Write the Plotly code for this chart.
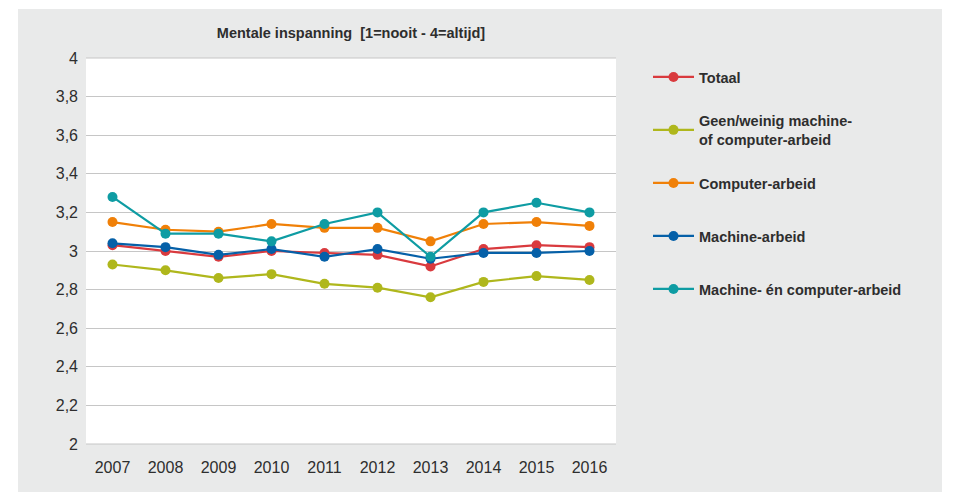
import plotly.graph_objects as go

# Survey years and mean scores for "mentale inspanning" (1 = nooit, 4 = altijd)
years = ["2007", "2008", "2009", "2010", "2011", "2012", "2013", "2014", "2015", "2016"]

totaal = [3.03, 3.00, 2.97, 3.00, 2.99, 2.98, 2.92, 3.01, 3.03, 3.02]
geen_weinig = [2.93, 2.90, 2.86, 2.88, 2.83, 2.81, 2.76, 2.84, 2.87, 2.85]
computer = [3.15, 3.11, 3.10, 3.14, 3.12, 3.12, 3.05, 3.14, 3.15, 3.13]
machine = [3.04, 3.02, 2.98, 3.01, 2.97, 3.01, 2.96, 2.99, 2.99, 3.00]
machine_computer = [3.28, 3.09, 3.09, 3.05, 3.14, 3.20, 2.97, 3.20, 3.25, 3.20]

series_names = [
    "Totaal",
    "Geen/weinig machine-<br>of computer-arbeid",
    "Computer-arbeid",
    "Machine-arbeid",
    "Machine- én computer-arbeid",
]
series_values = [totaal, geen_weinig, computer, machine, machine_computer]
series_colors = ["#d93a3e", "#afb71c", "#f08008", "#0560a8", "#0e9ca3"]

y_tickvals = [2, 2.2, 2.4, 2.6, 2.8, 3, 3.2, 3.4, 3.6, 3.8, 4]
y_ticktext = ["2", "2,2", "2,4", "2,6", "2,8", "3", "3,2", "3,4", "3,6", "3,8", "4"]

FONT = "Liberation Sans, Arial, sans-serif"
TEXT = "#2e2e2e"
PANEL = "#e9eaea"

W, H = 958, 493
L, R, T, B = 86, 342, 58, 49
plot_w = W - L - R
plot_h = H - T - B


def px_x(px):
    return (px - L) / plot_w


def px_y(py):
    return (H - B - py) / plot_h


fig = go.Figure()

legend_ids = ["legend", "legend2", "legend3", "legend4", "legend5"]
legend_centers = [77, 130, 183, 236, 289]

for name, vals, color, lid in zip(series_names, series_values, series_colors, legend_ids):
    fig.add_trace(
        go.Scatter(
            x=years,
            y=vals,
            name=name,
            mode="lines+markers",
            line=dict(color=color, width=2.2),
            marker=dict(color=color, size=10),
            legend=lid,
        )
    )

layout_legends = {}
for lid, cy in zip(legend_ids, legend_centers):
    layout_legends[lid] = dict(
        x=px_x(648),
        y=px_y(cy),
        xanchor="left",
        yanchor="middle",
        bgcolor="rgba(0,0,0,0)",
        font=dict(family=FONT, size=14.5, color=TEXT, weight="bold"),
        itemwidth=41,
        valign="middle",
    )

fig.update_layout(
    width=W,
    height=H,
    margin=dict(l=L, r=R, t=T, b=B, pad=0),
    paper_bgcolor="white",
    plot_bgcolor="white",
    font=dict(family=FONT, color=TEXT),
    showlegend=True,
    title=dict(
        text="Mentale inspanning  [1=nooit - 4=altijd]",
        xref="container",
        x=351 / W,
        xanchor="center",
        yref="container",
        y=1 - 33 / H,
        yanchor="middle",
        font=dict(family=FONT, size=14.5, color=TEXT, weight="bold"),
    ),
    xaxis=dict(
        type="category",
        range=[-0.5, 9.5],
        showgrid=False,
        showline=False,
        zeroline=False,
        ticks="",
        tickfont=dict(family=FONT, size=16, color=TEXT),
        ticklabelstandoff=12,
    ),
    yaxis=dict(
        range=[2, 4],
        tickvals=y_tickvals,
        ticktext=y_ticktext,
        showgrid=True,
        gridcolor="#c6c6c6",
        gridwidth=1,
        zeroline=False,
        showline=False,
        ticks="",
        tickfont=dict(family=FONT, size=16, color=TEXT),
        ticklabelstandoff=7,
    ),
    shapes=[
        # grey panel behind the whole chart
        dict(
            type="rect", xref="paper", yref="paper", layer="below",
            x0=px_x(18), x1=px_x(942), y0=px_y(492), y1=px_y(9),
            fillcolor=PANEL, line=dict(width=0),
        ),
        # white plotting area
        dict(
            type="rect", xref="paper", yref="paper", layer="below",
            x0=0, x1=1, y0=0, y1=1,
            fillcolor="white", line=dict(width=0),
        ),
        # top and bottom rules of the plotting area
        dict(type="line", xref="paper", yref="paper", x0=0, x1=1, y0=1, y1=1,
             line=dict(color="#c6c6c6", width=1)),
        dict(type="line", xref="paper", yref="paper", x0=0, x1=1, y0=0, y1=0,
             line=dict(color="#c6c6c6", width=1)),
    ],
    **layout_legends,
)

fig.write_html("out.html")
